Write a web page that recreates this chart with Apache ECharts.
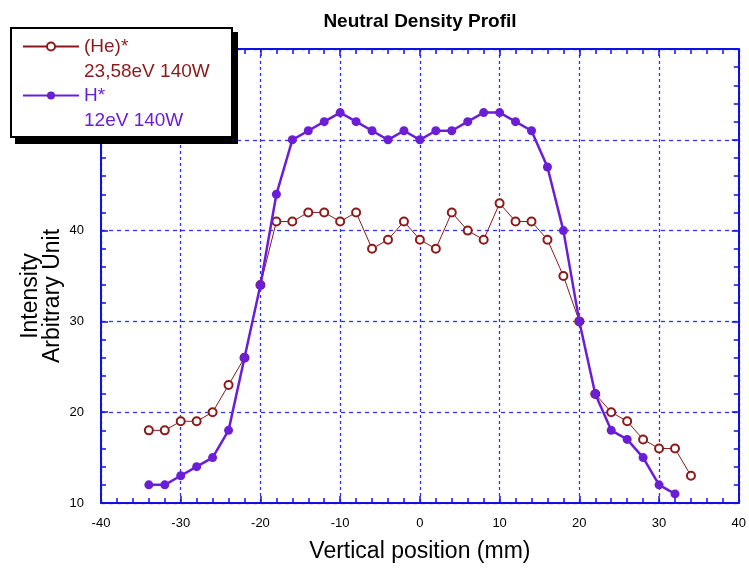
<!DOCTYPE html>
<html>
<head>
<meta charset="utf-8">
<script src="https://cdn.jsdelivr.net/npm/echarts@6/dist/echarts.min.js"></script>
<style>
html,body{margin:0;padding:0;background:#fff;}
#chart{width:749px;height:570px;}
</style>
</head>
<body>
<div id="chart"></div>
<script>
var xHe = [-34,-32,-30,-28,-26,-24,-22,-20,-18,-16,-14,-12,-10,-8,-6,-4,-2,0,2,4,6,8,10,12,14,16,18,20,22,24,26,28,30,32,34];
var yHe = [18,18,19,19,20,23,26,34,41,41,42,42,41,42,38,39,41,39,38,42,40,39,43,41,41,39,35,30,22,20,19,17,16,16,13];
var xH = [-34,-32,-30,-28,-26,-24,-22,-20,-18,-16,-14,-12,-10,-8,-6,-4,-2,0,2,4,6,8,10,12,14,16,18,20,22,24,26,28,30,32];
var yH = [12,12,13,14,15,18,26,34,44,50,51,52,53,52,51,50,51,50,51,51,52,53,53,52,51,47,40,30,22,18,17,15,12,11];
var nameHe = '(He)*\n23,58eV 140W';
var nameH = 'H*\n12eV 140W';
var colHe = '#8b1a1a';
var colH = '#6a1ed8';
var FONT = '"Liberation Sans", Arial, sans-serif';

function pairs(xs, ys){ return xs.map(function(x,i){return [x, ys[i]];}); }

var chart = echarts.init(document.getElementById('chart'));
var axisBlue = '#1010e0';
var gridBlue = '#3333ee';

function xAxisDef(pos, show){
  return {
    type:'value', position: pos, min:-40, max:40, interval:10,
    axisLine:{show:true, onZero:false, lineStyle:{color:axisBlue, width:2}},
    axisTick:{show:true, inside:true, length:7, lineStyle:{color:axisBlue, width:1.5}},
    minorTick:{show:true, splitNumber:5, length:5, lineStyle:{color:axisBlue, width:1.5}},
    axisLabel:{show:show, color:'#000', fontSize:13, fontFamily:FONT, margin:14},
    splitLine:{show:show, lineStyle:{color:gridBlue, type:[3,3], width:1.3}},
    name: show ? 'Vertical position (mm)' : '',
    nameLocation:'middle', nameGap:37, nameMoveOverlap:false,
    nameTextStyle:{color:'#000', fontSize:23, fontFamily:FONT}
  };
}
function yAxisDef(pos, show){
  return {
    type:'value', position: pos, min:10, max:60, interval:10,
    axisLine:{show:true, onZero:false, lineStyle:{color:axisBlue, width:2}},
    axisTick:{show:true, inside:true, length:7, lineStyle:{color:axisBlue, width:1.5}},
    minorTick:{show:true, splitNumber:5, length:5, lineStyle:{color:axisBlue, width:1.5}},
    axisLabel:{show:show, color:'#000', fontSize:13, fontFamily:FONT, margin:17},
    splitLine:{show:show, lineStyle:{color:gridBlue, type:[4,4], width:1.3}},
    name: show ? 'Intensity\nArbitrary Unit' : '',
    nameLocation:'middle', nameGap:37, nameRotate:90, nameMoveOverlap:false,
    nameTextStyle:{color:'#000', fontSize:23, fontFamily:FONT, lineHeight:22, padding:[0,40,0,0]}
  };
}

function legendFmt(n){ return ' \n' + n; }
var legendText = {fontSize:19, fontFamily:FONT, lineHeight:25};

chart.setOption({
  animation:false,
  backgroundColor:'#fff',
  title:{text:'Neutral Density Profil', left:415, textAlign:'center', top:7,
    textStyle:{fontSize:19, fontWeight:'bold', fontFamily:FONT, color:'#000'}},
  grid:{left:101, right:8, top:49, bottom:67},
  xAxis:[xAxisDef('bottom', true), xAxisDef('top', false)],
  yAxis:[yAxisDef('left', true), yAxisDef('right', false)],
  graphic:[
    {type:'rect', z:100, shape:{x:15, y:32, width:223, height:112}, style:{fill:'#000'}},
    {type:'rect', z:101, shape:{x:11, y:28, width:221, height:109}, style:{fill:'#fff', stroke:'#000', lineWidth:2}}
  ],
  legend:[
    {data:[nameHe], orient:'vertical', left:22, top:9, padding:0, z:200, itemWidth:56, itemHeight:10, itemGap:6,
     formatter:legendFmt, textStyle:Object.assign({color:colHe}, legendText)},
    {data:[nameH], orient:'vertical', left:22, top:58, padding:0, z:200, itemWidth:56, itemHeight:10, itemGap:6,
     formatter:legendFmt, textStyle:Object.assign({color:colH}, legendText)}
  ],
  series:[
    {name:nameHe, type:'line', data:pairs(xHe,yHe), symbol:'emptyCircle', symbolSize:8, z:3,
     lineStyle:{color:colHe, width:1}, itemStyle:{color:colHe, borderColor:colHe, borderWidth:1}},
    {name:nameH, type:'line', data:pairs(xH,yH), symbol:'circle', symbolSize:9, z:4,
     lineStyle:{color:colH, width:2.5}, itemStyle:{color:colH}}
  ]
});
</script>
</body>
</html>
